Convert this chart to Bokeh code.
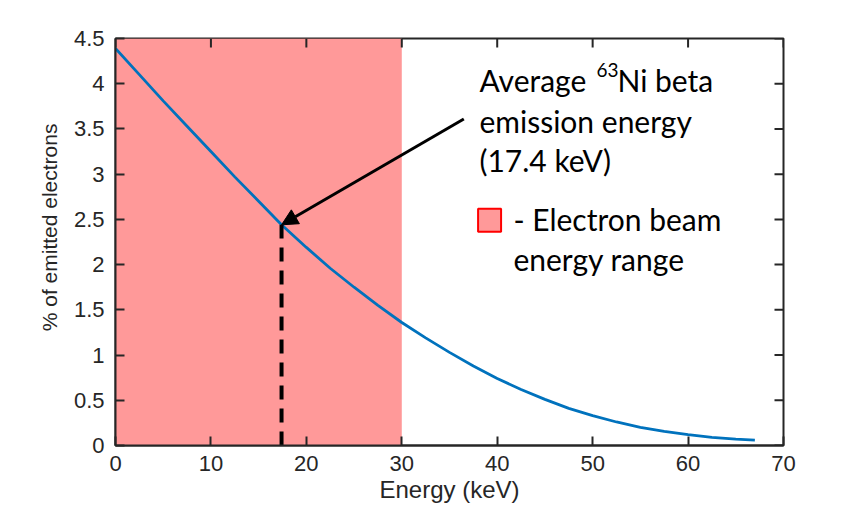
import numpy as np
from bokeh.plotting import figure
from bokeh.models import Range1d, FixedTicker, Arrow, NormalHead, Label
from bokeh.embed import file_html
from bokeh.resources import INLINE

# ---- data ----
energy = [0, 2.5, 5, 7.5, 10, 12.5, 15, 17.4, 20, 22.5, 25, 27.5, 30, 32.5, 35, 37.5,
          40, 42.5, 45, 47.5, 50, 52.5, 55, 57.5, 60, 62.5, 65, 67]
percent = [4.39, 4.10, 3.81, 3.53, 3.25, 2.97, 2.70, 2.44, 2.19, 1.96, 1.75, 1.55, 1.36,
           1.19, 1.03, 0.88, 0.74, 0.62, 0.51, 0.41, 0.33, 0.26, 0.20, 0.155, 0.12,
           0.09, 0.07, 0.06]
beam_range = [0, 30]
avg_energy = 17.4
avg_percent = 2.44
x_ticks = [0, 10, 20, 30, 40, 50, 60, 70]
x_tick_labels = ["0", "10", "20", "30", "40", "50", "60", "70"]
y_ticks = [0, 0.5, 1, 1.5, 2, 2.5, 3, 3.5, 4, 4.5]
y_tick_labels = ["0", "0.5", "1", "1.5", "2", "2.5", "3", "3.5", "4", "4.5"]
x_max = 70
y_max = 4.5

AX = "#262626"
TICKFONT = "Liberation Sans"
ANNFONT = "Lato"

p = figure(width=850, height=505, output_backend="svg", toolbar_location=None,
           x_range=Range1d(0, x_max), y_range=Range1d(0, y_max),
           min_border_left=115, min_border_right=67, min_border_top=38, min_border_bottom=59)
p.background_fill_color = "white"
p.border_fill_color = "white"
p.grid.visible = False
p.outline_line_color = AX
p.outline_line_width = 2

# shaded electron beam range
p.quad(left=[beam_range[0]], right=[beam_range[1]], bottom=[0], top=[y_max],
       fill_color="#FF9999", line_color=None)

# curve
p.line(energy, percent, line_color="#0072BD", line_width=2.8)

# dashed marker line at average energy
p.line([avg_energy, avg_energy], [0, avg_percent], line_color="black", line_width=4,
       line_dash="14 9")

# inward ticks on the top and right edges (box style)
p.ray(x=x_ticks, y=[y_max] * len(x_ticks), length=9, length_units="screen",
      angle=-np.pi / 2, line_color=AX, line_width=2)
p.ray(x=[x_max] * len(y_ticks), y=y_ticks, length=9, length_units="screen",
      angle=np.pi, line_color=AX, line_width=2)

# axes
def style_axis(ax, ticks, labels):
    ax.ticker = FixedTicker(ticks=ticks)
    ax.major_label_overrides = {t: l for t, l in zip(ticks, labels)}
    ax.major_tick_in = 9
    ax.major_tick_out = 0
    ax.major_tick_line_color = AX
    ax.major_tick_line_width = 2
    ax.minor_tick_line_color = None
    ax.axis_line_color = AX
    ax.axis_line_width = 2
    ax.major_label_text_color = AX
    ax.major_label_text_font = TICKFONT
    ax.major_label_text_font_size = "22px"
    ax.major_label_standoff = 11
    ax.axis_label_text_font = TICKFONT
    ax.axis_label_text_font_style = "normal"
    ax.axis_label_text_color = AX

style_axis(p.xaxis[0], x_ticks, x_tick_labels)
style_axis(p.yaxis[0], y_ticks, y_tick_labels)
p.xaxis[0].major_label_standoff = 10
p.xaxis[0].axis_label = "Energy (keV)"
p.xaxis[0].axis_label_text_font_size = "24px"
p.xaxis[0].axis_label_standoff = 2
# leading no-break spaces lift the rotated title a little above the frame centre
p.yaxis[0].axis_label = "\u00a0" * 5 + "% of emitted electrons"
p.yaxis[0].axis_label_text_font_size = "21px"
p.yaxis[0].axis_label_standoff = 10

# arrow annotation
p.add_layout(Arrow(end=NormalHead(size=16, fill_color="black", line_color="black"),
                   x_start=36.5, y_start=3.61, x_end=avg_energy, y_end=avg_percent,
                   line_color="black", line_width=3))

def lab(x, y, text, size="30px", font=ANNFONT):
    p.add_layout(Label(x=x, y=y, text=text, text_font=font, text_font_size=size,
                       text_color="black", text_baseline="alphabetic", text_align="left"))

lab(38.14, 4.045, "Average")
lab(50.4, 4.15, "63", size="19px")
lab(52.6, 4.045, "Ni beta")
lab(38.14, 3.585, "emission energy")
lab(38.14, 3.16, "(17.4 keV)")
lab(41.7, 2.50, "- Electron beam")
lab(41.7, 2.06, "energy range")

# legend swatch
p.scatter([39.2], [2.49], marker="square", size=23, fill_color="#FF9999",
          line_color="#FF0000", line_width=2)

open("out.html", "w").write(file_html(p, INLINE))
